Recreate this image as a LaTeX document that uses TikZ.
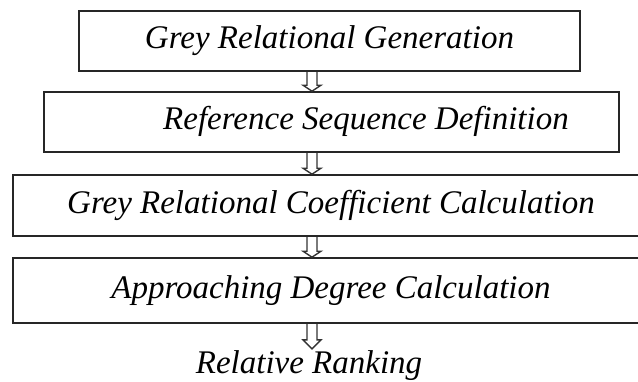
\documentclass[tikz,border=0pt]{standalone}
\usepackage{fontspec}
\setmainfont{Liberation Serif}
\usetikzlibrary{calc}
\newcommand{\dnarrow}[3]{%
  \draw[harrow] ($(#1.south -| ax)+(-5,0)$) -- ($(#2.north -| ax)+(-5,#3)$) -- ++(-4,0)
    -- (#2.north -| ax) -- ++(9,#3) -- ++(-4,0) -- ($(#1.south -| ax)+(5,0)$);}
\begin{document}
\begin{tikzpicture}[x=1pt,y=1pt,
  box/.style={draw=black!85, line width=1.6pt, fill=white, inner sep=0pt,
    font=\fontsize{33}{36}\selectfont\itshape, text height=22pt, text depth=7pt},
  plain/.style={inner xsep=0pt, inner ysep=2pt, font=\fontsize{33}{36}\selectfont\itshape,
    text height=22pt, text depth=7pt},
  harrow/.style={draw=black!80, line width=1.4pt, line join=miter}]
\useasboundingbox (0,0) rectangle (638,-381);
\node[box, minimum width=501pt, minimum height=60pt] (b1) at (329.5,-41) {Grey Relational Generation};
\node[box, minimum width=575pt, minimum height=60pt] (b2) at (331.5,-122) {\hspace*{69pt}Reference Sequence Definition};
\node[box, minimum width=636pt, minimum height=61pt] (b3) at (331,-205.5) {Grey Relational Coefficient Calculation};
\node[box, minimum width=636pt, minimum height=65pt] (b4) at (331,-290.5) {Approaching Degree Calculation};
\node[plain, anchor=base] (rr) at (309,-373) {Relative Ranking};
\coordinate (ax) at (312,0);
\dnarrow{b1}{b2}{6}
\dnarrow{b2}{b3}{6}
\dnarrow{b3}{b4}{6}
\dnarrow{b4}{rr}{9}
\end{tikzpicture}
\end{document}
